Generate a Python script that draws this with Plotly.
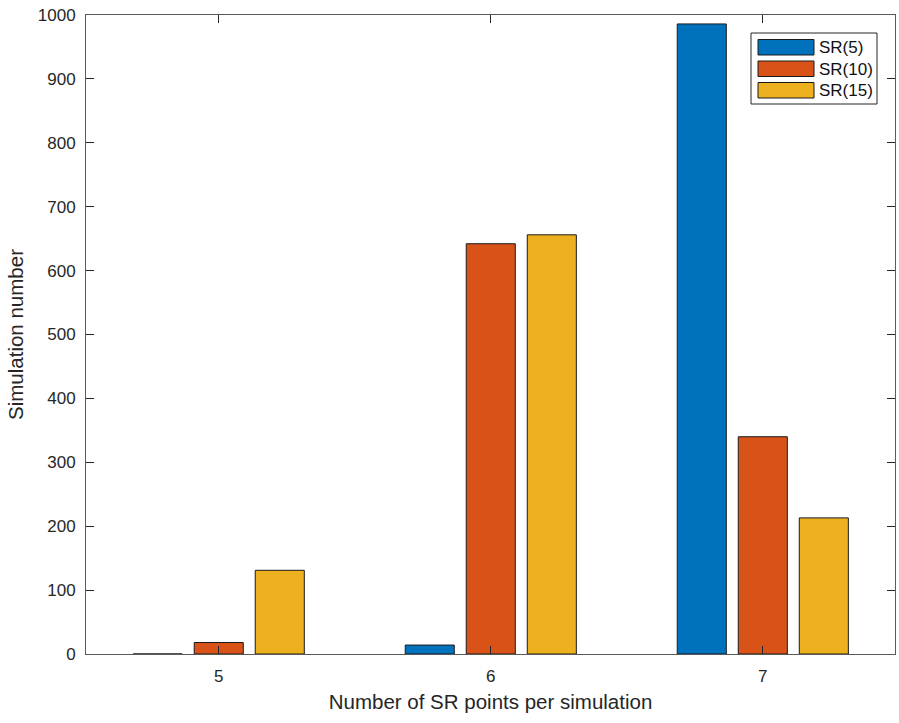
import plotly.graph_objects as go

# Data: how many simulations produced a given number of SR points
points_per_sim = [5, 6, 7]
series_names = ["SR(5)", "SR(10)", "SR(15)"]
sr5_counts = [0, 14, 986]
sr10_counts = [18, 642, 340]
sr15_counts = [131, 656, 213]
y_ticks = [0, 100, 200, 300, 400, 500, 600, 700, 800, 900, 1000]

series_values = [sr5_counts, sr10_counts, sr15_counts]
colors = ["#0072BD", "#D95319", "#EDB120"]

W, H = 899, 723
ML, MR, MT, MB = 86, 4, 15, 69
PW, PH = W - ML - MR, H - MT - MB

text_color = "#262626"
axis_color = "#5a5a5a"

fig = go.Figure()
for name, vals, col in zip(series_names, series_values, colors):
    fig.add_trace(go.Bar(
        x=points_per_sim, y=vals, name=name,
        marker=dict(color=col, line=dict(color="#1a1a1a", width=1)),
        showlegend=False,
    ))

# Legend drawn as a framed box with wide swatches
def px_x(p):
    return (p - ML) / PW

def px_y(p):
    return (H - MB - p) / PH

shapes = [dict(type="rect", xref="paper", yref="paper",
               x0=px_x(751), x1=px_x(877), y0=px_y(104), y1=px_y(33),
               line=dict(color="#262626", width=1), fillcolor="white", layer="above")]
annotations = []
for i, (name, col) in enumerate(zip(series_names, colors)):
    top = 39.5 + i * 21.5
    shapes.append(dict(type="rect", xref="paper", yref="paper",
                       x0=px_x(758), x1=px_x(814), y0=px_y(top + 15.5), y1=px_y(top),
                       line=dict(color="#1a1a1a", width=1), fillcolor=col, layer="above"))
    annotations.append(dict(xref="paper", yref="paper", x=px_x(817), y=px_y(top + 8),
                            text=name, showarrow=False, xanchor="left", yanchor="middle",
                            font=dict(size=17, color="#111111", family="Liberation Sans")))

fig.update_layout(
    width=W, height=H,
    margin=dict(l=ML, r=MR, t=MT, b=MB),
    paper_bgcolor="white", plot_bgcolor="white",
    barmode="group", bargap=0.327, bargroupgap=0.196,
    font=dict(family="Liberation Sans", color=text_color, size=17),
    shapes=shapes, annotations=annotations,
    xaxis=dict(
        range=[4.512, 7.486], tickvals=points_per_sim, ticktext=[str(v) for v in points_per_sim],
        ticks="inside", ticklen=8, tickcolor="#262626", tickwidth=1,
        showline=True, linecolor=axis_color, linewidth=1, mirror="ticks",
        showgrid=False, zeroline=False, ticklabelstandoff=7,
        tickfont=dict(size=17, color=text_color),
        title=dict(text="Number of SR points per simulation", font=dict(size=20.5, color=text_color), standoff=9),
    ),
    yaxis=dict(
        range=[0, 1000], tickvals=y_ticks,
        ticks="inside", ticklen=8, tickcolor="#262626", tickwidth=1,
        showline=True, linecolor=axis_color, linewidth=1, mirror="ticks",
        showgrid=False, zeroline=False, ticklabelstandoff=6,
        tickfont=dict(size=17, color=text_color),
        title=dict(text="Simulation number", font=dict(size=20.5, color=text_color), standoff=8),
    ),
)

fig.write_html("out.html")
